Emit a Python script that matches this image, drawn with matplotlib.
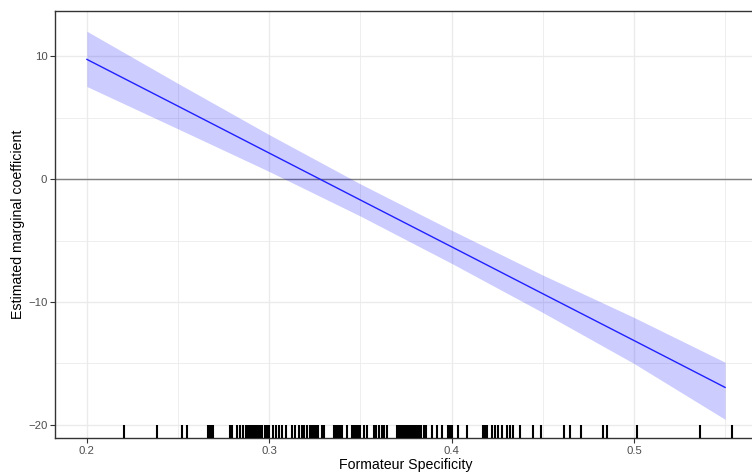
import matplotlib
matplotlib.use("Agg")
import matplotlib.pyplot as plt
import numpy as np

# Marginal effect curve
x_vals = [0.20, 0.25, 0.30, 0.35, 0.40, 0.45, 0.50, 0.55]
estimate = [9.76, 5.95, 2.13, -1.69, -5.50, -9.32, -13.13, -16.95]
lower = [7.55, 4.10, 0.63, -3.00, -6.85, -10.85, -15.00, -19.55]
upper = [12.05, 7.80, 3.63, -0.38, -4.15, -7.80, -11.25, -14.90]

# Rug: observed Formateur Specificity values
rug_vals = [0.2203, 0.2383, 0.2520, 0.2548, 0.2665, 0.2676, 0.2687, 0.2692,
            0.2786, 0.2797, 0.2824, 0.2841, 0.2857, 0.2874, 0.2885, 0.2896,
            0.2907, 0.2918, 0.2929, 0.2940, 0.2951, 0.2962, 0.2978, 0.2989,
            0.3000, 0.3022, 0.3038, 0.3055, 0.3071, 0.3093, 0.3126, 0.3143,
            0.3165, 0.3181, 0.3192, 0.3209, 0.3225, 0.3236, 0.3247, 0.3258,
            0.3269, 0.3291, 0.3302, 0.3357, 0.3368, 0.3379, 0.3390, 0.3401,
            0.3429, 0.3456, 0.3467, 0.3478, 0.3489, 0.3500, 0.3522, 0.3538,
            0.3577, 0.3588, 0.3604, 0.3621, 0.3632, 0.3648, 0.3703, 0.3714,
            0.3725, 0.3736, 0.3747, 0.3758, 0.3769, 0.3780, 0.3791, 0.3802,
            0.3813, 0.3824, 0.3835, 0.3846, 0.3857, 0.3890, 0.3918, 0.3945,
            0.3978, 0.3989, 0.4000, 0.4033, 0.4082, 0.4170, 0.4181, 0.4192,
            0.4220, 0.4236, 0.4253, 0.4275, 0.4302, 0.4319, 0.4335, 0.4374,
            0.4445, 0.4493, 0.4615, 0.4652, 0.4709, 0.4830, 0.4855, 0.5015,
            0.5363, 0.5540]

x_ticks = [0.2, 0.3, 0.4, 0.5]
x_tick_labels = ["0.2", "0.3", "0.4", "0.5"]
y_ticks = [-20, -10, 0, 10]
y_tick_labels = ["\u221220", "\u221210", "0", "10"]

plt.rcParams['font.family'] = ['Liberation Sans', 'DejaVu Sans']

fig = plt.figure(figsize=(7.52, 4.75), dpi=100)
ax = fig.add_axes([55/752, 1-438/475, (757-55)/752, (438-11)/475])

ax.set_xlim(0.1825, 0.5675)
ax.set_ylim(-21.07, 13.7)

# grid (theme_bw)
ax.set_xticks(x_ticks)
ax.set_xticklabels(x_tick_labels)
ax.set_yticks(y_ticks)
ax.set_yticklabels(y_tick_labels)
ax.set_xticks([0.25, 0.35, 0.45, 0.55], minor=True)
ax.set_yticks([-15, -5, 5], minor=True)
ax.grid(which='major', color='#EBEBEB', linewidth=1.0)
ax.grid(which='minor', color='#EBEBEB', linewidth=0.6)
ax.set_axisbelow(True)
ax.tick_params(which='minor', length=0)
ax.tick_params(which='major', length=3.5, width=0.8, color='#333333',
               labelcolor='#4D4D4D', labelsize=8.2, pad=2)
ax.tick_params(axis='x', which='major', pad=2.5)

ax.axhline(0, color='#808080', linewidth=1.0, zorder=1)

ax.fill_between(x_vals, lower, upper, color='#0000FF', alpha=0.2,
                linewidth=0, zorder=2)
ax.plot(x_vals, estimate, color='#2020FF', linewidth=1.0, zorder=3)

ax.vlines(rug_vals, 0, 0.03, transform=ax.get_xaxis_transform(),
          color='black', linewidth=1.5, zorder=4)

for s in ['left', 'bottom', 'top', 'right']:
    ax.spines[s].set_color('#333333')
    ax.spines[s].set_linewidth(1.0)

ax.set_xlabel("Formateur Specificity", fontsize=10.2, color='black', labelpad=1.5)
ax.set_ylabel("Estimated marginal coefficient", fontsize=10.2, color='black',
              labelpad=2)

fig.savefig("out.png", dpi=100)
